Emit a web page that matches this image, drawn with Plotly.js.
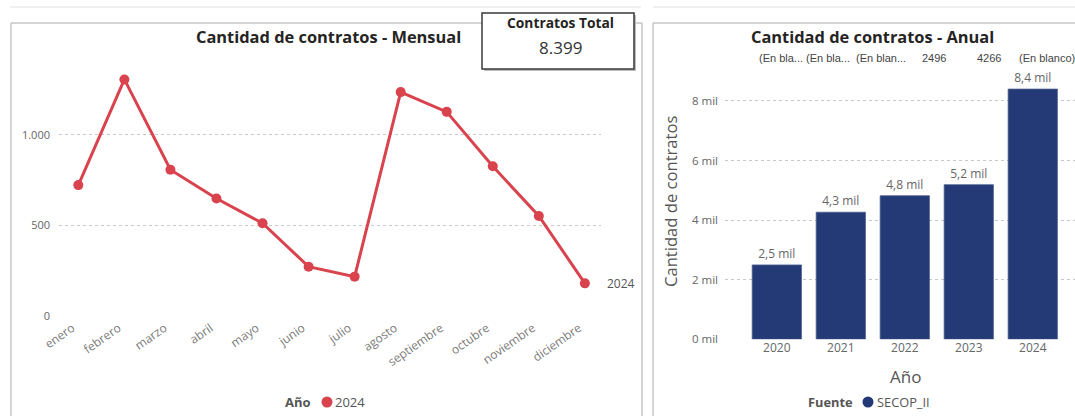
<!DOCTYPE html>
<html>
<head>
<meta charset="utf-8">
<script src="https://cdn.plot.ly/plotly-3.0.1.min.js"></script>
<style>html,body{margin:0;padding:0;background:#fff;}#chart{width:1075px;height:416px;}</style>
</head>
<body>
<div id="chart"></div>
<script>
// ---- data ----
const months = ['enero','febrero','marzo','abril','mayo','junio','julio','agosto','septiembre','octubre','noviembre','diciembre'];
const monthly2024 = [722, 1305, 807, 648, 512, 272, 217, 1235, 1126, 826, 552, 180];
const seriesName = '2024';
const years = ['2020','2021','2022','2023','2024'];
const yearlyContracts = [2496, 4266, 4820, 5190, 8399];
const fuente = 'SECOP_II';
const leftYTicks = [0, 500, 1000];
const rightYTicks = [0, 2000, 4000, 6000, 8000];
const rightYTickText = ['0 mil','2 mil','4 mil','6 mil','8 mil'];
const topLabels = ['(En bla...','(En bla...','(En blan...','2496','4266','(En blanco)'];
const cardTitle = 'Contratos Total';
const cardValue = '8.399';

// ---- styling / layout ----
const W = 1075, H = 416;
const px = x => x / W;
const py = y => 1 - y / H;
const FONT = 'Open Sans, Noto Sans, sans-serif';
const RED = '#D9434D';
const BLUE = '#233A76';
const GRID = '#C8C8C8';
const TICK = '#666666';

const barLabels = yearlyContracts.map(v => (v / 1000).toFixed(1).replace('.', ',') + ' mil');

const traces = [
  {
    type: 'scatter', mode: 'lines+markers',
    x: months, y: monthly2024, name: seriesName,
    xaxis: 'x', yaxis: 'y',
    line: {color: RED, width: 3},
    marker: {color: RED, size: 10},
    showlegend: false, cliponaxis: false
  },
  {
    type: 'bar',
    x: years, y: yearlyContracts, name: fuente,
    xaxis: 'x2', yaxis: 'y2',
    marker: {color: BLUE, line: {color: '#4F5F8F', width: 0.8}},
    text: barLabels, textposition: 'outside',
    textfont: {family: FONT, size: 12, color: TICK},
    cliponaxis: false, showlegend: false
  }
];

const labelLeftX = [757, 804, 854, 920, 975, 1017];

const annotations = [
  {xref:'paper', yref:'paper', x: px(328), y: py(36), text:'<b>Cantidad de contratos - Mensual</b>', showarrow:false, font:{family:FONT, size:16.4, color:'#252423'}, xanchor:'center', yanchor:'middle'},
  {xref:'paper', yref:'paper', x: px(872), y: py(36), text:'<b>Cantidad de contratos - Anual</b>', showarrow:false, font:{family:FONT, size:16.4, color:'#252423'}, xanchor:'center', yanchor:'middle'},
  {xref:'paper', yref:'paper', x: px(560), y: py(22), text:'<b>' + cardTitle + '</b>', showarrow:false, font:{family:FONT, size:13.8, color:'#252423'}, xanchor:'center', yanchor:'middle'},
  {xref:'paper', yref:'paper', x: px(560), y: py(47), text: cardValue, showarrow:false, font:{family:FONT, size:17, color:'#333333'}, xanchor:'center', yanchor:'middle'},
  {xref:'x', yref:'y', x: months[months.length-1], y: monthly2024[monthly2024.length-1], text: seriesName, showarrow:false, xanchor:'left', yanchor:'middle', xshift: 20, font:{family:FONT, size:12, color:'#555555'}},
  {xref:'paper', yref:'paper', x: px(670), y: py(202), text:'Cantidad de contratos', textangle:-90, showarrow:false, font:{family:FONT, size:16.6, color:'#555555'}, xanchor:'center', yanchor:'middle'},
  {xref:'paper', yref:'paper', x: px(905), y: py(376), text:'Año', showarrow:false, font:{family:FONT, size:17, color:'#555555'}, xanchor:'center', yanchor:'middle'},
  {xref:'paper', yref:'paper', x: px(313), y: py(402), text:'<b>Año</b>', showarrow:false, font:{family:FONT, size:13, color:'#555555'}, xanchor:'right', yanchor:'middle'},
  {xref:'paper', yref:'paper', x: px(333), y: py(402), text: seriesName, showarrow:false, font:{family:FONT, size:13, color:'#555555'}, xanchor:'left', yanchor:'middle'},
  {xref:'paper', yref:'paper', x: px(855), y: py(402), text:'<b>Fuente</b>', showarrow:false, font:{family:FONT, size:12.8, color:'#555555'}, xanchor:'right', yanchor:'middle'},
  {xref:'paper', yref:'paper', x: px(875), y: py(402), text: fuente, showarrow:false, font:{family:FONT, size:12.8, color:'#555555'}, xanchor:'left', yanchor:'middle'}
];
topLabels.forEach((t, i) => {
  annotations.push({xref:'paper', yref:'paper', x: px(labelLeftX[i]), y: py(58), text: t, showarrow:false, xanchor:'left', yanchor:'middle', font:{family:'Liberation Sans, Arial, sans-serif', size:11, color:'#444444'}});
});

const BORDER = '#C6C6C6';
const shapes = [
  // faint top separator
  {type:'line', xref:'paper', yref:'paper', x0:px(10), x1:px(641), y0:py(7), y1:py(7), line:{color:'#EBEBEB', width:1.5}},
  {type:'line', xref:'paper', yref:'paper', x0:px(653), x1:1, y0:py(7), y1:py(7), line:{color:'#EBEBEB', width:1.5}},
  // left panel border
  {type:'line', xref:'paper', yref:'paper', x0:px(11), x1:px(11), y0:py(23), y1:0, line:{color:BORDER, width:1.5}},
  {type:'line', xref:'paper', yref:'paper', x0:px(11), x1:px(642), y0:py(23), y1:py(23), line:{color:BORDER, width:1.5}},
  {type:'line', xref:'paper', yref:'paper', x0:px(642), x1:px(642), y0:py(23), y1:0, line:{color:BORDER, width:1.5}},
  // right panel border
  {type:'line', xref:'paper', yref:'paper', x0:px(653), x1:px(653), y0:py(23), y1:0, line:{color:BORDER, width:1.5}},
  {type:'line', xref:'paper', yref:'paper', x0:px(653), x1:1, y0:py(23), y1:py(23), line:{color:BORDER, width:1.5}},
  // card shadow + card
  {type:'rect', xref:'paper', yref:'paper', x0:px(484), x1:px(636), y0:py(71), y1:py(15), line:{width:0}, fillcolor:'#BDBDBD', layer:'above'},
  {type:'rect', xref:'paper', yref:'paper', x0:px(482), x1:px(634), y0:py(69), y1:py(13), line:{color:'#3A3A3A', width:1.5}, fillcolor:'#FFFFFF', layer:'above'},
  // legend dots
  {type:'circle', xref:'paper', yref:'paper', x0:px(321.5), x1:px(332.5), y0:py(407.5), y1:py(396.5), line:{width:0}, fillcolor:RED},
  {type:'circle', xref:'paper', yref:'paper', x0:px(862.5), x1:px(873.5), y0:py(407.5), y1:py(396.5), line:{width:0}, fillcolor:BLUE}
];

const layout = {
  width: W, height: H, autosize: false,
  margin: {l:0, r:0, t:0, b:0, pad:0},
  paper_bgcolor: '#FFFFFF', plot_bgcolor: 'rgba(0,0,0,0)',
  separators: ',.',
  font: {family: FONT, size: 12, color: TICK},
  showlegend: false,
  xaxis: {
    domain: [px(59), px(601)], anchor: 'y',
    type: 'category', range: [-0.42, 11.35],
    showgrid: false, zeroline: false, showline: false, ticks: '',
    tickangle: -35, tickfont: {family: FONT, size: 12, color: '#7A7A7A'},
    ticklabelshift: -6, ticklabelstandoff: 2,
    fixedrange: true
  },
  yaxis: {
    domain: [py(316), py(62.2)], anchor: 'x',
    range: [0, 1400],
    tickvals: leftYTicks, tickformat: ',d',
    showgrid: true, gridcolor: GRID, griddash: 'dot', gridwidth: 1,
    zeroline: false, showline: false, ticks: '',
    ticklabelstandoff: 8,
    tickfont: {family: FONT, size: 11, color: TICK},
    fixedrange: true
  },
  xaxis2: {
    domain: [px(725), 1], anchor: 'y2',
    type: 'category', range: [-0.81, 4.66],
    showgrid: false, zeroline: false, showline: false, ticks: '',
    tickfont: {family: FONT, size: 12, color: TICK},
    fixedrange: true
  },
  yaxis2: {
    domain: [py(339.3), py(71.2)], anchor: 'x2',
    range: [0, 9000],
    tickvals: rightYTicks, ticktext: rightYTickText,
    showgrid: true, gridcolor: GRID, griddash: 'dot', gridwidth: 1,
    zeroline: false, showline: false, ticks: '',
    ticklabelstandoff: 6,
    tickfont: {family: FONT, size: 11.5, color: TICK},
    fixedrange: true
  },
  bargap: 0.23,
  annotations: annotations,
  shapes: shapes
};

Plotly.newPlot('chart', traces, layout, {staticPlot: true, displayModeBar: false});
</script>
</body>
</html>
